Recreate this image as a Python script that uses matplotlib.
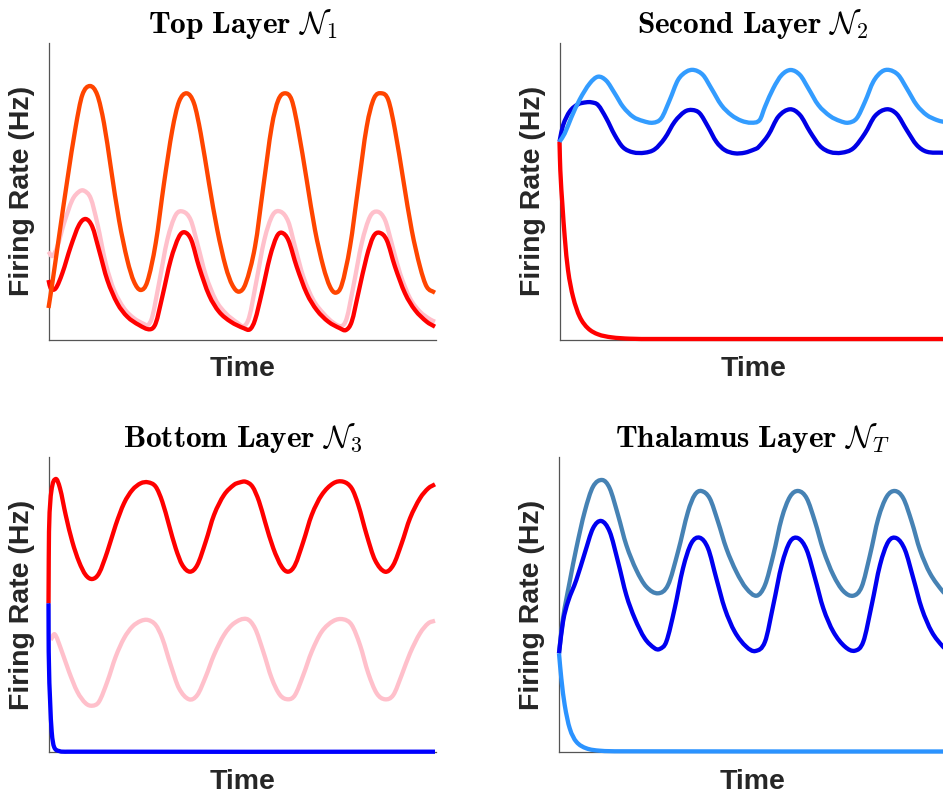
import matplotlib
matplotlib.use('Agg')
import matplotlib.pyplot as plt
import numpy as np
from matplotlib.path import Path
from matplotlib.patches import PathPatch

plt.rcParams['mathtext.fontset'] = 'cm'
plt.rcParams['font.family'] = ['Liberation Sans', 'DejaVu Sans']

# ---- Top layer N1 ----
top_orange_t = [0, 3.8, 10.5, 18.8, 27.2, 33.8, 41.5, 48.8, 55.5, 62.2, 70.5, 78.8, 85.5, 92.2,
                98.8, 107.2, 115.5, 123.8, 130.5, 138.2, 145.5, 152.2, 160.5, 168.8, 177.2, 183.8,
                190.5, 197.2, 206.5, 214.8, 223.2, 229.8, 236.5, 243.2, 249.8, 258.2, 266.5, 274.8,
                281.5, 287.2, 293.2, 301.5, 309.8, 318.2, 325.5, 333.2, 339.8, 346.5, 354.8, 363.2,
                371.5, 378.2, 386.5]
top_orange_r = [31.5, 56.2, 102.8, 159.5, 212.8, 244.5, 253.5, 244.5, 216.2, 172.8, 119.5, 79.5, 57.8, 49.5,
                57.8, 96.2, 156.2, 209.5, 237.8, 246.2, 236.2, 206.2, 156.2, 109.5, 72.8, 54.5,
                47.8, 56.2, 92.8, 152.8, 212.8, 239.5, 246.2, 239.5, 209.5, 159.5, 109.5, 72.8,
                52.8, 46.8, 54.5, 92.8, 152.8, 212.8, 241.2, 246.2, 239.5, 209.5, 159.5, 109.5,
                72.8, 52.8, 46.8]

top_pink_t = [0, 3.8, 8.8, 15.5, 23.8, 30.5, 35.5, 42.2, 48.8, 57.2, 65.5, 75.5, 85.5, 95.5,
              99.5, 103.8, 110.5, 118.8, 127.2, 134.8, 142.2, 148.8, 157.2, 167.2, 177.2, 188.8,
              195.5, 200.8, 207.5, 215.8, 224.2, 232.2, 239.8, 246.5, 254.8, 264.8, 274.8, 284.8,
              293.2, 298.2, 304.8, 313.2, 321.5, 329.2, 336.5, 343.2, 351.5, 361.5, 371.5, 381.5, 386.5]
top_pink_r = [87.8, 83.5, 92.8, 116.2, 139.5, 147.8, 148.8, 141.2, 116.2, 76.2, 49.5, 31.2, 21.2, 15.5,
              14.5, 22.8, 56.2, 99.5, 124.5, 127.8, 119.5, 96.2, 64.5, 39.5, 26.2, 16.8,
              13.5, 22.8, 56.2, 99.5, 124.5, 127.8, 117.8, 92.8, 62.8, 39.5, 26.2, 16.8,
              13.5, 21.2, 52.8, 96.2, 122.8, 127.8, 119.5, 96.2, 66.2, 41.2, 27.8, 20.2, 17.8]

top_red_t = [0, 2.2, 7.2, 13.8, 22.2, 30.5, 37.2, 43.8, 50.5, 58.8, 68.8, 78.8, 90.5, 101.5,
             107.2, 113.8, 122.2, 130.5, 136.2, 142.8, 150.5, 160.5, 170.5, 182.2, 195.5, 201.5,
             206.5, 213.2, 221.5, 228.2, 233.2, 239.8, 248.2, 258.2, 268.2, 279.8, 291.5, 297.5,
             303.2, 309.8, 318.2, 324.8, 330.8, 338.2, 346.5, 356.5, 366.5, 378.2, 386.5]
top_red_r = [59.5, 51.2, 51.2, 66.2, 92.8, 114.5, 120.5, 112.8, 89.5, 59.5, 36.2, 22.8, 14.5, 10.2,
             16.2, 42.8, 79.5, 102.8, 107.2, 99.5, 72.8, 44.5, 27.8, 17.8, 11.2, 10.2,
             19.5, 46.2, 82.8, 102.8, 106.8, 99.5, 72.8, 46.2, 29.5, 17.8, 11.2, 9.5,
             17.8, 46.2, 82.8, 102.8, 106.8, 99.5, 72.8, 46.2, 29.5, 17.8, 12.8]

# ---- Second layer N2 ----
sec_light_t = [0, 5.2, 11.8, 20.2, 30.2, 38.5, 46.8, 55.2, 63.5, 73.5, 83.5, 93.5, 101.8, 110.2,
               118.5, 126.8, 134.5, 143.5, 151.8, 161.8, 171.8, 181.8, 191.8, 200.2, 205.5, 213.8,
               222.2, 231.2, 240.5, 248.8, 258.8, 270.5, 280.5, 288.8, 297.2, 305.5, 313.8, 322.2,
               329.8, 338.8, 347.2, 357.2, 367.2, 377.2, 383.5, 387.5]
sec_light_r = [197.8, 206, 222, 240, 256, 262.8, 258.8, 246.2, 232.8, 222.8, 218.5, 216.8, 221.2, 239.5,
               259.5, 267.8, 269.5, 264.5, 251.2, 234.5, 224.5, 218.8, 216.8, 219.5, 232.8, 251.2,
               264.5, 269.5, 264.5, 251.2, 234.5, 223.5, 218.5, 216.8, 221.2, 237.8, 257.8, 267.8,
               269.5, 264.5, 251.2, 234.5, 224.5, 219.5, 217.8, 217.2]

sec_dark_t = [0, 3.5, 10.2, 18.5, 26.8, 31.8, 38.5, 46.8, 55.2, 63.5, 73.5, 85.2, 95.2, 105.2,
              115.2, 125.2, 132.8, 140.2, 148.5, 156.8, 165.2, 175.2, 185.2, 195.2, 198.8, 208.8,
              218.8, 230.5, 240.5, 250.5, 260.5, 270.5, 282.2, 293.8, 305.5, 315.5, 327.2, 337.2,
              347.2, 357.2, 367.2, 383.5, 387.5]
sec_dark_r = [197.8, 214, 228, 235.2, 237.2, 237.2, 234.5, 221.2, 204.5, 192.2, 187.2, 186.8, 190.2, 201.2,
              217.8, 227.8, 229.5, 226.2, 212.8, 197.8, 189.5, 186.2, 186.8, 190.2, 192.2, 204.5,
              222.8, 230.2, 224.5, 207.8, 193.5, 187.5, 186.8, 191.2, 206.2, 223.5, 230.2, 225.5,
              209.5, 194.5, 187.8, 186.8, 186.8]

sec_red_t = [0, 0.8, 2.8, 5.2, 8.5, 13.5, 20.2, 28.5, 38.5, 51.8, 70.2, 93.5, 387.5]
sec_red_r = [197.8, 169.5, 136.2, 102.8, 69.5, 42.8, 22.8, 11.2, 5.2, 2.2, 0.8, 0.5, 0.5]

# ---- Bottom layer N3 ----
bot_red_t = [0, 0.5, 2.8, 7.2, 11.5, 17.2, 23.8, 30.5, 37.2, 43.8, 50.5, 58.8, 67.2, 75.5,
             83.8, 92.2, 99.5, 107.2, 113.8, 120.5, 127.2, 133.8, 141.5, 148.8, 157.2, 165.5,
             175.5, 185.5, 191, 197, 204, 210.5, 216.5, 224.8, 233.2, 239.8, 246.5, 254.8, 263.2,
             273.2, 284.8, 294.8, 303.2, 309.8, 318.2, 326.5, 336.5, 344.8, 353.2, 361.5, 371.5,
             379.8, 386.5]
bot_red_r = [149, 220.6, 260.6, 273.3, 264, 237.3, 210.6, 190.6, 177.3, 173.3, 179, 200.6, 227.3, 249,
             262.3, 269, 270, 265.6, 250.6, 227.3, 204, 187.3, 180.6, 187.3, 210.6, 237.3,
             257.3, 267.5, 269.8, 270.6, 265.6, 251, 230.6, 204, 185.6, 180.6, 187.3, 210.6, 237.3,
             257.3, 269, 270.6, 264, 247.3, 217.3, 192.3, 180.6, 187.3, 209, 234, 254,
             264, 268]

bot_pink_t = [2.2, 6.2, 12.2, 20.5, 28.8, 37.2, 43.8, 50.5, 58.8, 67.2, 75.5, 83.8, 92.2, 99.5,
              107.2, 113.8, 122.2, 130.5, 140.5, 148.8, 157.2, 165.5, 175.5, 185.5, 198.2, 206.5,
              214.8, 223.2, 231.5, 239.8, 246.5, 254.8, 263.2, 273.2, 284.8, 294.8, 303.2, 311.5,
              319.8, 328.2, 336.5, 344.8, 353.2, 361.5, 371.5, 379.8, 386.5]
bot_pink_r = [112.3, 118, 104, 80.6, 60.6, 49, 46.6, 50.6, 70.6, 95.6, 114, 125.6, 131.3, 132.3,
              127.3, 114, 87.3, 64, 53, 57.3, 75.6, 97.3, 117.3, 129, 133.3, 124,
              100.6, 74, 57.3, 53, 57.3, 77.3, 100.6, 120.6, 131.3, 133, 127.3, 107.3,
              79, 59, 53, 57.3, 77.3, 99, 119, 129, 131.6]

bot_blue_t = [0, 0.2, 1.5, 3.2, 5.5, 10.5, 18.8, 386.5]
bot_blue_r = [149, 100.6, 54, 20.6, 5.6, 1.3, 0.6, 0.6]

# ---- Thalamus layer NT ----
tha_steel_t = [0, 4, 10.7, 17.3, 25.7, 34, 43.3, 50.7, 59, 67.3, 77.3, 87.3, 99, 109,
               119, 129, 135.7, 142.3, 150.7, 159, 167.3, 177.3, 187.3, 197.7, 206, 214.3,
               222.7, 231, 239.3, 247.7, 256, 264.3, 274.3, 284.3, 294.3, 302.7, 311, 319.3,
               327.7, 336, 344.3, 352.7, 361, 371, 384, 388]
tha_steel_r = [99, 134, 170.6, 204, 240.6, 265.6, 272.3, 264, 237.3, 207.3, 182.3, 165.6, 159, 167.3,
               200.6, 240.6, 257.3, 261.3, 254, 230.6, 204, 180.6, 164, 156.6, 167.3, 197.3,
               234, 255.6, 261.3, 254, 230.6, 202.3, 177.3, 161.3, 156.6, 165.6, 197.3, 234,
               255.6, 261.3, 254, 230.6, 202.3, 179, 160.6, 158]

tha_dark_t = [0, 4, 9, 17.3, 25.7, 34, 42.3, 50.7, 59, 67.3, 75.7, 85.7, 95.7, 100.7,
              107.3, 115.7, 124, 132.3, 140.7, 149, 157.3, 165.7, 175.7, 187.3, 196.5, 206,
              214.3, 222.7, 231, 239.3, 247.7, 256, 264.3, 274.3, 286, 296, 304.3, 312.7,
              321, 329.3, 337.7, 346, 354.3, 362.7, 372.7, 384, 388]
tha_dark_r = [99, 130.6, 150.6, 172.3, 199, 224, 231.3, 220.6, 190.6, 157.3, 134, 114, 104, 103.3,
              110.6, 144, 184, 209, 214.6, 204, 174, 144, 120.6, 105.6, 101.3, 110.6,
              147.3, 187.3, 210.6, 214, 202.3, 174, 144, 120.6, 105.6, 101.6, 110.6, 147.3,
              187.3, 210.6, 214, 202.3, 174, 144, 120.6, 105.6, 103]

tha_light_t = [0, 2.3, 5.7, 10.7, 17.3, 27.3, 40.7, 60.7, 388]
tha_light_r = [99, 74, 47.3, 24, 10.6, 4, 1.6, 1, 0.8]


def smooth_path(x, y):
    # cubic Hermite through the read points, drawn as Bezier segments
    x = np.asarray(x, float)
    y = np.asarray(y, float)
    m = np.empty(len(x))
    m[1:-1] = (y[2:] - y[:-2]) / (x[2:] - x[:-2])
    m[0] = (y[1] - y[0]) / (x[1] - x[0])
    m[-1] = (y[-1] - y[-2]) / (x[-1] - x[-2])
    verts = [(x[0], y[0])]
    codes = [Path.MOVETO]
    for i in range(len(x) - 1):
        h = x[i + 1] - x[i]
        verts += [(x[i] + h / 3, y[i] + m[i] * h / 3),
                  (x[i + 1] - h / 3, y[i + 1] - m[i + 1] * h / 3),
                  (x[i + 1], y[i + 1])]
        codes += [Path.CURVE4] * 3
    return Path(verts, codes)


W, H = 943, 797
fig = plt.figure(figsize=(W / 100, H / 100), dpi=100)

# axes boxes in pixels: left, top, right, bottom
boxes = {
    'tl': (48.5, 43, 436, 339.5),
    'tr': (559.5, 43, 947, 339.5),
    'bl': (48.5, 457, 436, 752.3),
    'br': (559, 457, 946.5, 752.3),
}

titles = {
    'tl': r'$\mathbf{Top\ Layer}\ \mathcal{N}_1$',
    'tr': r'$\mathbf{Second\ Layer}\ \mathcal{N}_2$',
    'bl': r'$\mathbf{Bottom\ Layer}\ \mathcal{N}_3$',
    'br': r'$\mathbf{Thalamus\ Layer}\ \mathcal{N}_T$',
}

series = {
    'tl': [(top_pink_t, top_pink_r, '#FFC0CB'),
           (top_red_t, top_red_r, '#FF0000'),
           (top_orange_t, top_orange_r, '#FF4500')],
    'tr': [(sec_red_t, sec_red_r, '#FF0000'),
           (sec_dark_t, sec_dark_r, '#0000E6'),
           (sec_light_t, sec_light_r, '#339CFF')],
    'bl': [(bot_pink_t, bot_pink_r, '#FFC0CB'),
           (bot_red_t, bot_red_r, '#FF0000'),
           (bot_blue_t, bot_blue_r, '#0000FF')],
    'br': [(tha_steel_t, tha_steel_r, '#4682B4'),
           (tha_dark_t, tha_dark_r, '#0000F0'),
           (tha_light_t, tha_light_r, '#2B93FF')],
}

for key, (l, t, r, b) in boxes.items():
    ax = fig.add_axes([l / W, (H - b) / H, (r - l) / W, (b - t) / H])
    for tt, rr, c in series[key]:
        ax.add_patch(PathPatch(smooth_path(tt, rr), fill=False, edgecolor=c, lw=3.1,
                               clip_on=False, zorder=3, capstyle='butt', joinstyle='round'))
    ax.set_xlim(0, r - l)
    ax.set_ylim(0, b - t)
    ax.set_xticks([])
    ax.set_yticks([])
    for s in ['top', 'right']:
        ax.spines[s].set_visible(False)
    for s in ['left', 'bottom']:
        ax.spines[s].set_color('#555555')
        ax.spines[s].set_linewidth(0.9)
    ax.set_title(titles[key], fontsize=22.5, pad=7)
    ax.set_xlabel('Time', fontsize=20.5, fontweight='bold', color='#262626', labelpad=12)
    ax.set_ylabel('Firing Rate (Hz)', fontsize=20.5, fontweight='bold', color='#262626',
                  labelpad=10)

fig.savefig('out.png', dpi=100)
